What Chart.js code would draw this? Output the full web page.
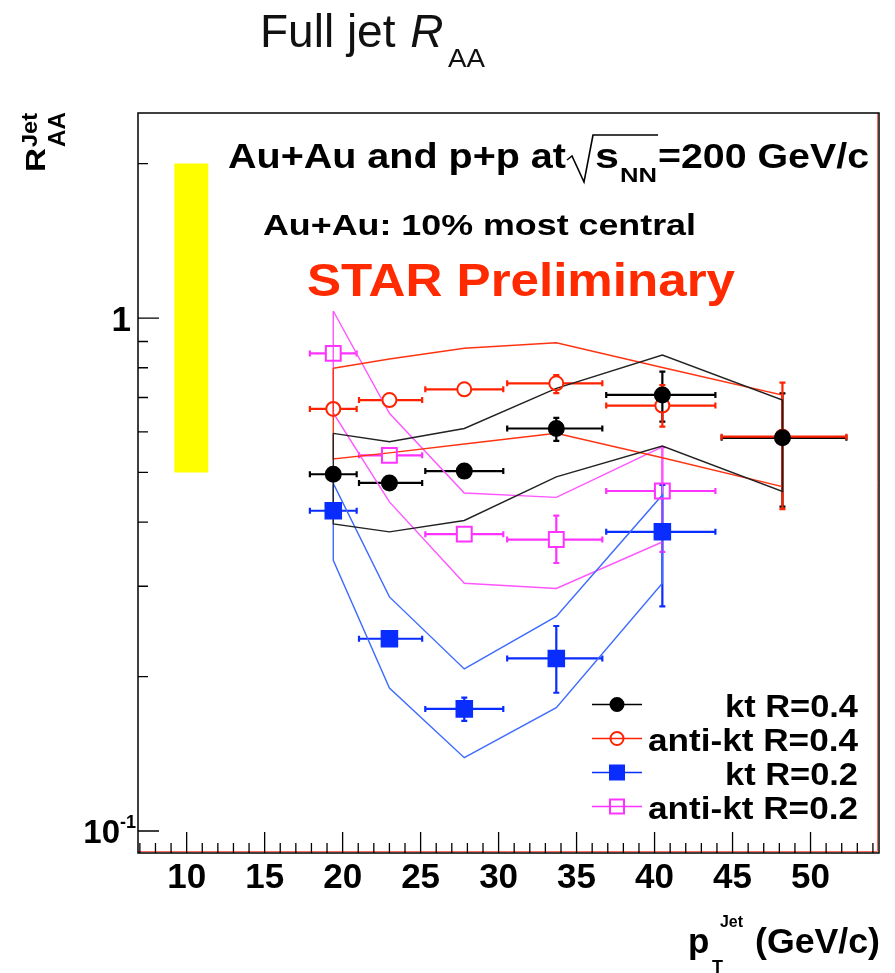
<!DOCTYPE html>
<html>
<head>
<meta charset="utf-8">
<script src="https://cdn.jsdelivr.net/npm/chart.js@4.4.1/dist/chart.umd.min.js"></script>
<style>
  html, body { margin: 0; padding: 0; background: #fff; }
  canvas { display: block; }
</style>
</head>
<body>
<canvas id="myChart" width="895" height="973"></canvas>
<script>
// jet pT bins (GeV/c)
const binCenter = [19.4, 23.0, 27.8, 33.7, 40.5, 48.2];
const binLow    = [17.9, 21.05, 25.3, 30.55, 36.9, 44.3];
const binHigh   = [20.9, 25.1, 30.3, 36.65, 43.9, 52.3];

// kt R=0.4
const ktR04     = [0.496, 0.477, 0.503, 0.609, 0.708, 0.584];
const ktR04Lo   = [0.485, 0.468, 0.493, 0.576, 0.628, 0.429];
const ktR04Hi   = [0.507, 0.487, 0.513, 0.639, 0.786, 0.713];
const ktR04SysUp = [0.596, 0.574, 0.609, 0.729, 0.847, 0.692];
const ktR04SysDn = [0.397, 0.383, 0.403, 0.490, 0.563, 0.459];

// anti-kt R=0.4
const akR04     = [0.665, 0.692, 0.726, 0.746, 0.675, 0.587];
const akR04Lo   = [0.652, 0.680, 0.713, 0.714, 0.614, 0.424];
const akR04Hi   = [0.678, 0.704, 0.739, 0.774, 0.740, 0.748];
const akR04SysUp = [0.798, 0.832, 0.873, 0.895, 0.801, 0.708];
const akR04SysDn = [0.531, 0.546, 0.568, 0.596, 0.534, 0.469];

// kt R=0.2 (no last bin)
const ktR02     = [0.421, 0.237, 0.173, 0.217, 0.383];
const ktR02Lo   = [0.412, 0.232, 0.164, 0.186, 0.274];
const ktR02Hi   = [0.430, 0.242, 0.182, 0.251, 0.473];
const ktR02SysUp = [0.476, 0.286, 0.207, 0.262, 0.452];
const ktR02SysDn = [0.337, 0.190, 0.139, 0.174, 0.304];

// anti-kt R=0.2 (no last bin)
const akR02     = [0.853, 0.540, 0.379, 0.370, 0.460];
const akR02Lo   = [0.835, 0.530, 0.371, 0.333, 0.350];
const akR02Hi   = [0.871, 0.550, 0.387, 0.412, 0.560];
const akR02SysUp = [1.032, 0.652, 0.456, 0.447, 0.561];
const akR02SysDn = [0.653, 0.438, 0.304, 0.297, 0.366];

// normalisation uncertainty box
const normX = [9.2, 11.4];
const normY = [0.5, 2.0];

// axis ticks
const xMajor = [10, 15, 20, 25, 30, 35, 40, 45, 50];
const xMinor = [7, 8, 9, 11, 12, 13, 14, 16, 17, 18, 19, 21, 22, 23, 24, 26, 27, 28, 29,
                31, 32, 33, 34, 36, 37, 38, 39, 41, 42, 43, 44, 46, 47, 48, 49, 51, 52, 53, 54];
const yMajor = [0.1, 1];
const yMinor = [0.2, 0.3, 0.4, 0.5, 0.6, 0.7, 0.8, 0.9, 2];

const BOLD = '"Liberation Sans", Arial, Helvetica, sans-serif';

function pts(xs, ys) {
  return ys.map((v, i) => ({ x: xs[i], y: v }));
}

// closed outline: upper edge left->right, lower edge back, then close
function band(xs, up, dn) {
  const out = up.map((v, i) => ({ x: xs[i], y: v }));
  for (let i = dn.length - 1; i >= 0; i--) out.push({ x: xs[i], y: dn[i] });
  out.push({ x: xs[0], y: up[0] });
  return out;
}

function markerSet(label, values, lo, hi, color, style, filled, radius) {
  const n = values.length;
  return {
    label: label,
    data: pts(binCenter, values),
    showLine: false,
    pointStyle: style,
    pointRadius: radius,
    pointBorderWidth: 2,
    borderColor: color,
    pointBorderColor: color,
    pointBackgroundColor: filled ? color : 'rgba(0,0,0,0)',
    backgroundColor: filled ? color : 'rgba(0,0,0,0)',
    err: { xlo: binLow.slice(0, n), xhi: binHigh.slice(0, n), ylo: lo, yhi: hi }
  };
}

function bandSet(xs, up, dn, color) {
  return {
    data: band(xs.slice(0, up.length), up, dn),
    showLine: true,
    borderColor: color,
    borderWidth: 1.4,
    pointRadius: 0,
    fill: false,
    tension: 0
  };
}

function fitText(ctx, text, x, y, font, width, align) {
  ctx.save();
  ctx.font = font;
  const w = ctx.measureText(text).width;
  const sx = width ? width / w : 1;
  ctx.translate(x, y);
  ctx.scale(sx, 1);
  ctx.textAlign = align || 'left';
  ctx.textBaseline = 'alphabetic';
  ctx.fillText(text, 0, 0);
  ctx.restore();
}

function drawErrors(chart) {
  const { ctx, scales: { x, y } } = chart;
  chart.data.datasets.forEach(ds => {
    if (!ds.err) return;
    ctx.save();
    ctx.strokeStyle = ds.borderColor;
    ctx.lineWidth = 2.2;
    ds.data.forEach((p, i) => {
      const px = x.getPixelForValue(p.x);
      const py = y.getPixelForValue(p.y);
      const xl = x.getPixelForValue(ds.err.xlo[i]);
      const xh = x.getPixelForValue(ds.err.xhi[i]);
      const yt = y.getPixelForValue(ds.err.yhi[i]);
      const yb = y.getPixelForValue(ds.err.ylo[i]);
      const gap = 7;
      ctx.beginPath();
      if (px - xl > gap) {
        ctx.moveTo(xl, py); ctx.lineTo(px - gap, py);
        ctx.moveTo(xl, py - 3); ctx.lineTo(xl, py + 3);
      }
      if (xh - px > gap) {
        ctx.moveTo(px + gap, py); ctx.lineTo(xh, py);
        ctx.moveTo(xh, py - 3); ctx.lineTo(xh, py + 3);
      }
      if (py - yt > gap) {
        ctx.moveTo(px, yt); ctx.lineTo(px, py - gap);
        ctx.moveTo(px - 3, yt); ctx.lineTo(px + 3, yt);
      }
      if (yb - py > gap) {
        ctx.moveTo(px, py + gap); ctx.lineTo(px, yb);
        ctx.moveTo(px - 3, yb); ctx.lineTo(px + 3, yb);
      }
      ctx.stroke();
    });
    ctx.restore();
  });
}

function drawFrame(chart) {
  const { ctx, chartArea: a, scales: { x, y } } = chart;
  ctx.save();
  // red histogram edge just inside the frame
  ctx.strokeStyle = '#ff6a5a';
  ctx.lineWidth = 1;
  ctx.beginPath();
  ctx.moveTo(a.left, a.bottom - 1.5); ctx.lineTo(a.right - 1.5, a.bottom - 1.5);
  ctx.lineTo(a.right - 1.5, a.top);
  ctx.stroke();

  ctx.strokeStyle = '#000';
  ctx.lineWidth = 1.5;
  ctx.strokeRect(a.left, a.top, a.right - a.left, a.bottom - a.top);

  ctx.beginPath();
  ctx.lineWidth = 1.3;
  xMajor.forEach(v => { const px = x.getPixelForValue(v); ctx.moveTo(px, a.bottom); ctx.lineTo(px, a.bottom - 21); });
  xMinor.forEach(v => { const px = x.getPixelForValue(v); ctx.moveTo(px, a.bottom); ctx.lineTo(px, a.bottom - 10); });
  yMajor.forEach(v => { const py = y.getPixelForValue(v); ctx.moveTo(a.left, py); ctx.lineTo(a.left + 21, py); });
  yMinor.forEach(v => { const py = y.getPixelForValue(v); ctx.moveTo(a.left, py); ctx.lineTo(a.left + 10, py); });
  ctx.stroke();

  ctx.fillStyle = '#000';
  xMajor.forEach(v => fitText(ctx, String(v), x.getPixelForValue(v), a.bottom + 35, 'bold 35px ' + BOLD, 0, 'center'));
  const y1 = y.getPixelForValue(1);
  fitText(ctx, '1', a.left - 7, y1 + 13, 'bold 35px ' + BOLD, 0, 'right');
  const y01 = y.getPixelForValue(0.1);
  fitText(ctx, '10', a.left - 18, y01 + 12, 'bold 33px ' + BOLD, 0, 'right');
  fitText(ctx, '-1', a.left - 18, y01 - 3, 'bold 18px ' + BOLD, 0, 'left');
  ctx.restore();
}

function drawTexts(chart) {
  const { ctx } = chart;
  ctx.save();
  ctx.fillStyle = '#111';
  // page heading
  fitText(ctx, 'Full jet ', 260, 47, '46px ' + BOLD, 0, 'left');
  ctx.font = '46px ' + BOLD;
  const hw = ctx.measureText('Full jet ').width;
  fitText(ctx, 'R', 262 + hw, 47, 'italic 46px ' + BOLD, 0, 'left');
  fitText(ctx, 'AA', 448, 67, '26px ' + BOLD, 37, 'left');

  ctx.fillStyle = '#000';
  // collision system line with sqrt(s_NN)
  fitText(ctx, 'Au+Au and p+p at', 228, 168, 'bold 35px ' + BOLD, 338, 'left');
  ctx.strokeStyle = '#000';
  ctx.lineWidth = 1.6;
  ctx.beginPath();
  ctx.moveTo(567, 160); ctx.lineTo(572, 156);
  ctx.lineTo(584, 182); ctx.lineTo(593, 135); ctx.lineTo(658, 135);
  ctx.stroke();
  fitText(ctx, 's', 595, 168, 'bold 35px ' + BOLD, 24, 'left');
  fitText(ctx, 'NN', 620, 182, 'bold 20px ' + BOLD, 37, 'left');
  fitText(ctx, '=200 GeV/c', 658, 168, 'bold 35px ' + BOLD, 211, 'left');

  fitText(ctx, 'Au+Au: 10% most central', 263, 235, 'bold 30px ' + BOLD, 433, 'left');

  ctx.fillStyle = '#ff2a00';
  fitText(ctx, 'STAR Preliminary', 307, 296, 'bold 46px ' + BOLD, 428, 'left');

  // y axis title, rotated
  ctx.fillStyle = '#000';
  ctx.save();
  ctx.translate(45, 172);
  ctx.rotate(-Math.PI / 2);
  fitText(ctx, 'R', 0, 0, 'bold 28px ' + BOLD, 24, 'left');
  fitText(ctx, 'Jet', 25, -8, 'bold 22px ' + BOLD, 34, 'left');
  fitText(ctx, 'AA', 25, 20, 'bold 24px ' + BOLD, 35, 'left');
  ctx.restore();

  // x axis title
  fitText(ctx, 'p', 688, 953, 'bold 35px ' + BOLD, 0, 'left');
  fitText(ctx, 'Jet', 720, 927, 'bold 16px ' + BOLD, 23, 'left');
  fitText(ctx, 'T', 712, 973, 'bold 18px ' + BOLD, 0, 'left');
  fitText(ctx, '(GeV/c)', 755, 953, 'bold 35px ' + BOLD, 125, 'left');
  ctx.restore();
}

function drawLegend(chart) {
  const { ctx } = chart;
  const entries = chart.data.datasets.filter(ds => ds.err);
  ctx.save();
  entries.forEach((ds, i) => {
    const cy = 704.5 + i * 34;
    ctx.strokeStyle = ds.borderColor;
    ctx.lineWidth = 1.5;
    ctx.beginPath();
    ctx.moveTo(592, cy); ctx.lineTo(642, cy);
    ctx.stroke();
    ctx.lineWidth = 2;
    ctx.fillStyle = ds.pointBackgroundColor;
    ctx.beginPath();
    if (ds.pointStyle === 'circle') ctx.arc(617, cy, 6.5, 0, Math.PI * 2);
    else ctx.rect(610, cy - 7, 14, 14);
    ctx.fill();
    ctx.stroke();
    ctx.fillStyle = '#000';
    fitText(ctx, ds.label, 858, cy + 12, 'bold 31px ' + BOLD,
            ds.label.startsWith('anti') ? 210 : 133, 'right');
  });
  ctx.restore();
}

const rootStyle = {
  id: 'rootStyle',
  beforeDraw(chart) {
    const ctx = chart.ctx;
    ctx.save();
    ctx.fillStyle = '#fff';
    ctx.fillRect(0, 0, chart.width, chart.height);
    ctx.restore();
  },
  beforeDatasetsDraw(chart) { drawErrors(chart); },
  afterDatasetsDraw(chart) {
    drawFrame(chart);
    drawTexts(chart);
    drawLegend(chart);
  }
};

const datasets = [
  markerSet('kt R=0.4', ktR04, ktR04Lo, ktR04Hi, '#000000', 'circle', true, 7.5),
  markerSet('anti-kt R=0.4', akR04, akR04Lo, akR04Hi, '#ff2200', 'circle', false, 7),
  markerSet('kt R=0.2', ktR02, ktR02Lo, ktR02Hi, '#0a2dff', 'rect', true, 11),
  markerSet('anti-kt R=0.2', akR02, akR02Lo, akR02Hi, '#ff33ff', 'rect', false, 10.5),
  bandSet(binCenter, ktR04SysUp, ktR04SysDn, '#222222'),
  bandSet(binCenter, akR04SysUp, akR04SysDn, '#ff3311'),
  bandSet(binCenter, ktR02SysUp, ktR02SysDn, '#3d6bff'),
  bandSet(binCenter, akR02SysUp, akR02SysDn, '#ff55ff'),
  {
    data: [{ x: normX[0], y: normY[1] }, { x: normX[1], y: normY[1] }],
    showLine: true,
    borderWidth: 0,
    pointRadius: 0,
    backgroundColor: '#ffff00',
    fill: { value: normY[0] }
  }
];

const myChart = new Chart(document.getElementById('myChart'), {
  type: 'line',
  data: { datasets: datasets },
  options: {
    responsive: false,
    animation: false,
    layout: { padding: { left: 138, right: 16, top: 113, bottom: 120 } },
    scales: {
      x: { type: 'linear', min: 6.88, max: 54.39, display: false },
      y: { type: 'logarithmic', min: 0.0906, max: 2.51, display: false }
    },
    plugins: {
      legend: { display: false },
      tooltip: { enabled: false },
      title: { display: false }
    }
  },
  plugins: [rootStyle]
});
</script>
</body>
</html>
